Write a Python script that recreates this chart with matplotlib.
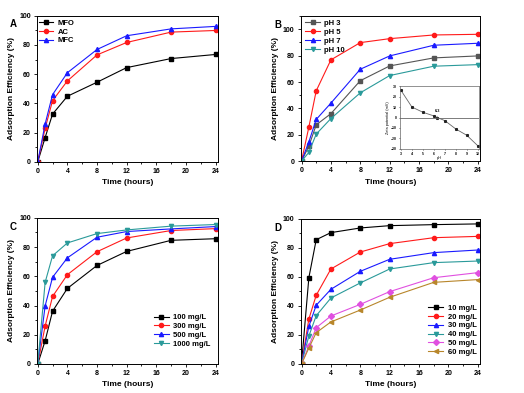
import matplotlib
matplotlib.use("Agg")
import matplotlib.pyplot as plt
from matplotlib.ticker import MultipleLocator

plt.rcParams['font.family'] = ['Liberation Sans', 'DejaVu Sans']
plt.rcParams['font.weight'] = 'bold'

hours = [0, 1, 2, 4, 8, 12, 18, 24]

# panel A: adsorbent type
mfo = [0, 16.7, 32.7, 44.9, 54.5, 64.5, 70.7, 73.5]
ac = [0, 23.0, 41.9, 55.4, 73.2, 81.7, 88.8, 89.9]
mfc = [0, 26.0, 46.0, 61.0, 76.9, 86.3, 91.0, 92.7]

# panel B: pH
ph3 = [0, 11.4, 27.5, 36.0, 61.0, 72.2, 78.3, 79.8]
ph5 = [0, 25.8, 53.3, 76.8, 89.9, 92.9, 95.7, 96.2]
ph7 = [0, 14.6, 31.6, 44.0, 69.7, 79.8, 87.9, 89.4]
ph10 = [0, 6.6, 20.5, 32.3, 51.8, 64.9, 72.0, 73.2]

# inset: zeta potential vs pH
zeta_ph = [3, 4, 5, 6, 6.3, 7, 8, 9, 10]
zeta_mv = [26, 10, 5, 1.5, 0, -3, -11, -17, -27]

# panel C: adsorbent dose
c100 = [0, 15.9, 36.1, 51.7, 67.4, 77.0, 84.6, 85.7]
c300 = [0, 26.0, 46.2, 61.1, 76.8, 86.2, 91.3, 92.6]
c500 = [0, 39.8, 59.3, 72.6, 86.7, 90.6, 92.4, 94.0]
c1000 = [0, 55.9, 74.0, 82.8, 89.2, 91.7, 94.3, 95.4]

# panel D: initial concentration
d10 = [0, 59.5, 85.7, 90.6, 93.8, 95.4, 96.1, 96.6]
d20 = [0, 31.0, 47.4, 65.5, 77.2, 83.0, 87.1, 88.0]
d30 = [0, 26.0, 40.5, 51.5, 63.9, 72.2, 76.8, 78.6]
d40 = [0, 19.3, 33.3, 45.5, 55.9, 65.5, 69.9, 71.0]
d50 = [0, 12.4, 25.0, 33.1, 41.1, 49.9, 59.5, 63.0]
d60 = [0, 11.0, 21.6, 29.0, 37.2, 46.0, 56.3, 58.2]

BLACK = 'black'
RED = '#ff1a1a'
BLUE = '#1a1aff'
TEAL = '#2a9a9a'
MAG = '#e050e0'
OLIVE = '#b8862b'
GRAY = '#555555'


def style_axes(ax, ymax, letter, ytop):
    ax.set_xlim(-0.1, 24.3)
    ax.set_ylim(0, ymax)
    ax.xaxis.set_major_locator(MultipleLocator(4))
    ax.xaxis.set_minor_locator(MultipleLocator(2))
    ax.yaxis.set_major_locator(MultipleLocator(20))
    ax.yaxis.set_minor_locator(MultipleLocator(10))
    ax.tick_params(which='both', direction='out', labelsize=5, width=0.6, pad=2)
    ax.tick_params(which='major', length=2.5)
    ax.tick_params(which='minor', length=1.5)
    for s in ax.spines.values():
        s.set_linewidth(0.7)
    ax.set_xlabel('Time (hours)', fontsize=6, fontweight='bold', labelpad=3)
    ax.set_ylabel('Adsorption Efficiency (%)', fontsize=6, fontweight='bold', labelpad=3)
    ax.text(-0.13, ytop, letter, transform=ax.transAxes, fontsize=7,
            fontweight='bold', va='center', ha='center')


def curve(ax, ys, color, marker, label):
    ax.plot(hours, ys, color=color, marker=marker, markersize=3, lw=0.8, label=label)


def add_legend(ax, loc, anchor):
    ax.legend(loc=loc, bbox_to_anchor=anchor, frameon=False, fontsize=5.5,
              handlelength=1.9, handletextpad=0.6, labelspacing=0.2,
              borderpad=0, borderaxespad=0)


fig = plt.figure(figsize=(5.24, 3.93), dpi=100)

axA = fig.add_axes([0.0706, 0.588, 0.345, 0.372])
curve(axA, mfo, BLACK, 's', 'MFO')
curve(axA, ac, RED, 'o', 'AC')
curve(axA, mfc, BLUE, '^', 'MFC')
style_axes(axA, 100, 'A', 0.94)
add_legend(axA, 'upper left', (0.01, 0.975))

axB = fig.add_axes([0.574, 0.590, 0.342, 0.369])
curve(axB, ph3, GRAY, 's', 'pH 3')
curve(axB, ph5, RED, 'o', 'pH 5')
curve(axB, ph7, BLUE, '^', 'pH 7')
curve(axB, ph10, TEAL, 'v', 'pH 10')
style_axes(axB, 110, 'B', 0.94)
add_legend(axB, 'upper left', (0.025, 0.975))

axI = fig.add_axes([0.763, 0.621, 0.151, 0.160])
axI.plot(zeta_ph, zeta_mv, color='#666666', marker='s', markersize=1.2, lw=0.6,
         markerfacecolor='#222222', markeredgecolor='#222222')
axI.axhline(0, color='#666666', lw=0.6)
axI.set_xlim(2.9, 10.1)
axI.set_ylim(-30, 30)
axI.set_xticks(range(3, 11))
axI.set_yticks(range(-30, 31, 10))
axI.tick_params(labelsize=2.5, length=1, width=0.4, pad=1)
for s in axI.spines.values():
    s.set_linewidth(0.5)
    s.set_color('#666666')
axI.set_xlabel('pH', fontsize=2.8, fontweight='normal', labelpad=0.5)
axI.set_ylabel('Zeta potential (mV)', fontsize=2.8, fontweight='normal', labelpad=0.5)
axI.annotate('6.3', xy=(6.3, 0), xytext=(6.3, 5), fontsize=2.8,
             ha='center', arrowprops=dict(arrowstyle='-', lw=0.4, color='#666666'))

axC = fig.add_axes([0.0706, 0.0738, 0.345, 0.372])
curve(axC, c100, BLACK, 's', '100 mg/L')
curve(axC, c300, RED, 'o', '300 mg/L')
curve(axC, c500, BLUE, '^', '500 mg/L')
curve(axC, c1000, TEAL, 'v', '1000 mg/L')
style_axes(axC, 100, 'C', 0.94)
add_legend(axC, 'lower right', (0.96, 0.11))

axD = fig.add_axes([0.574, 0.0738, 0.342, 0.369])
curve(axD, d10, BLACK, 's', '10 mg/L')
curve(axD, d20, RED, 'o', '20 mg/L')
curve(axD, d30, BLUE, '^', '30 mg/L')
curve(axD, d40, TEAL, 'v', '40 mg/L')
curve(axD, d50, MAG, 'D', '50 mg/L')
curve(axD, d60, OLIVE, '<', '60 mg/L')
style_axes(axD, 100, 'D', 0.94)
add_legend(axD, 'lower right', (0.98, 0.055))

fig.savefig('out.png', dpi=100)
